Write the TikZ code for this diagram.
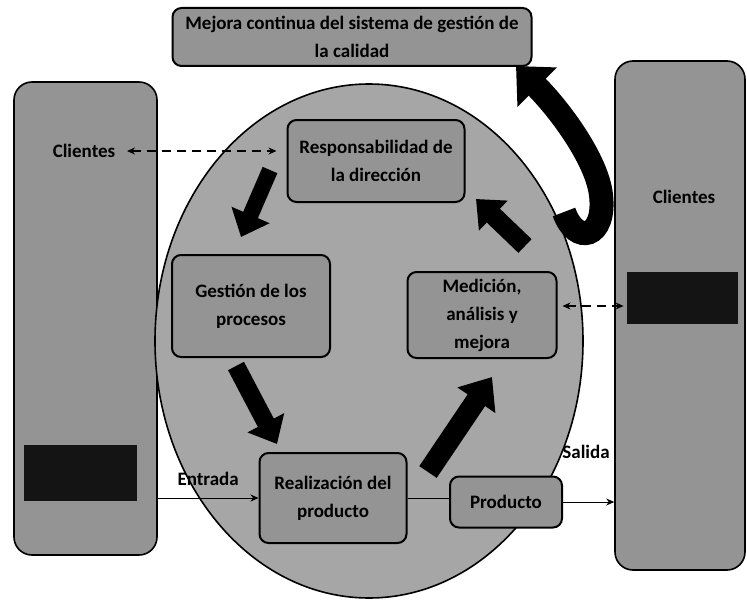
\documentclass[tikz,border=0pt]{standalone}
\usepackage{fontspec}
\setmainfont{Carlito}
\usepackage{tikz}
\usetikzlibrary{arrows.meta}
\usetikzlibrary{positioning}

\begin{document}
\begin{tikzpicture}[x=1pt,y=-1pt,>={Stealth[length=8pt,width=7pt]},thick,
  font=\fontsize{19}{28}\selectfont\bfseries,
  side box/.style={draw=black,line width=1.6pt,fill=black!42,rounded corners=18pt},
  main node/.style={draw=black,line width=2pt,fill=black!42,rounded corners=9pt,align=center,inner sep=2pt},
  black box/.style={fill=black!92,draw=none,inner sep=0pt},
  block arrow/.style={line width=18pt,-{Triangle[length=24pt,width=40pt]}},
  dash arrow/.style={<->,dash pattern=on 9pt off 6pt,line width=1.3pt}]

  \useasboundingbox (0,0) rectangle (747,602);

  \node[side box,minimum width=143pt,minimum height=473pt] (left) at (85.5,318.5) {};
  \node[side box,minimum width=130pt,minimum height=509pt] (right) at (680,315.5) {};
  \draw[fill=black!35,line width=1.6pt] (369,341) ellipse [x radius=214,y radius=257];

  \node[main node,minimum width=359pt,minimum height=58pt] (mejora) at (352,37) {Mejora continua del sistema de gesti\'on de\\la calidad};
  \node[main node,minimum width=177pt,minimum height=82pt] (resp) at (376,161) {Responsabilidad de\\la direcci\'on};
  \node[main node,minimum width=158pt,minimum height=102pt] (gest) at (251,306) {Gesti\'on de los\\procesos};
  \node[main node,minimum width=149pt,minimum height=86pt] (med) at (482,315) {Medici\'on,\\an\'alisis y\\mejora};
  \node[main node,minimum width=147pt,minimum height=90pt] (real) at (333,498) {Realizaci\'on del\\producto};
  \node[main node,minimum width=112pt,minimum height=51pt] (prod) at (506,502) {Producto};

  \node[] (cli1) at (84,151) {Clientes};
  \node[] (cli2) at (684,197) {Clientes};
  \node[black box,minimum width=113pt,minimum height=56pt] (blk1) at (80.5,473) {};
  \node[black box,minimum width=111pt,minimum height=52pt] (blk2) at (682.5,298) {};

  % dashed links to the customers
  \path[dash arrow] (cli1.east) edge [shorten <=8pt,shorten >=10pt] (cli1.east -| resp.west);
  \coordinate (medr) at ([yshift=9pt]med.east);
  \path[dash arrow] (medr) edge [shorten <=5pt,shorten >=3pt] (medr -| blk2.west);

  % input and output
  \path[->] (left.east |- real.west) edge node [above=9pt,pos=0.5] {Entrada} (real.west);
  \path (real.east) edge (real.east -| prod.west);
  \path[->] (prod.east) edge node [above=40pt,pos=0.45] {Salida} (prod.east -| right.west);

  % the cycle
  \coordinate (a1s) at (270,170);
  \coordinate (a1e) at (241,237);
  \coordinate (a2s) at (236,366);
  \coordinate (a2e) at (277,444);
  \coordinate (a3s) at (428,472);
  \coordinate (a3e) at (492,377);
  \coordinate (a4s) at (525,246);
  \coordinate (a4e) at (476,199);
  \draw[block arrow,line width=16pt] (a1s) -- (a1e);
  \draw[block arrow] (a2s) -- (a2e);
  \draw[block arrow,line width=21pt,-{Triangle[length=28pt,width=44pt]}] (a3s) -- (a3e);
  \draw[block arrow,line width=19pt] (a4s) -- (a4e);

  % loop back to continual improvement
  \coordinate (curl) at (564,212);
  \coordinate (hook) at (516,66);
  \draw[line width=24pt,-{Triangle[length=30pt,width=54pt]}] (curl) .. controls (576,246) and (606,238) .. (601,195) .. controls (597,160) and (560,110) .. (hook);
\end{tikzpicture}
\end{document}
